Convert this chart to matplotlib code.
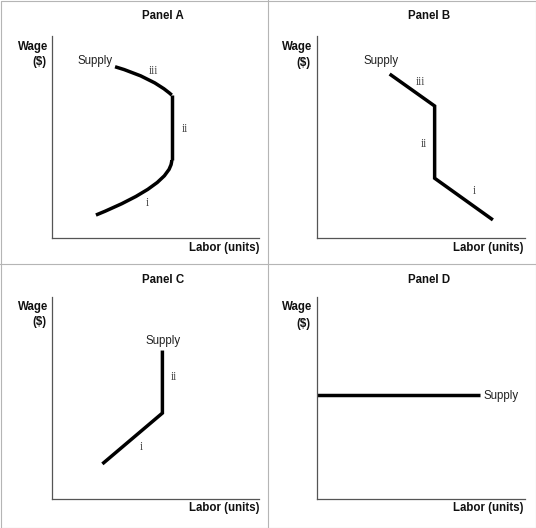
import matplotlib
matplotlib.use("Agg")
import matplotlib.pyplot as plt
from matplotlib.path import Path
from matplotlib.patches import PathPatch
from matplotlib.lines import Line2D

# --- Data (axes units 0-10 on both axes) ---

# Panel A: backward-bending supply, built from two quadratic curves and a vertical run
A_LOW_CURVE = [(2.13, 1.15), (5.78, 2.67), (5.78, 3.87)]   # start, control, end
A_VERTICAL = [(5.78, 3.87), (5.78, 7.08)]
A_HIGH_CURVE = [(5.78, 7.08), (4.86, 7.94), (3.05, 8.48)]  # start, control, end

# Panel B: kinked backward-bending supply
B_X = [3.49, 5.66, 5.66, 8.47]
B_Y = [8.12, 6.54, 2.97, 0.91]

# Panel C: upward sloping then vertical
C_X = [2.44, 5.33, 5.33]
C_Y = [1.74, 4.26, 7.36]

# Panel D: perfectly elastic supply
D_X = [0.0, 7.83]
D_Y = [5.16, 5.16]

PANEL_TITLES = ["Panel A", "Panel B", "Panel C", "Panel D"]
Y_LABEL = ["Wage", "($)"]
X_LABEL = "Labor (units)"

# segment labels (text, x, y) in data units
A_LABELS = [("iii", 4.90, 8.29), ("ii", 6.42, 5.39), ("i", 4.62, 1.73)]
B_LABELS = [("iii", 4.98, 7.74), ("ii", 5.14, 4.66), ("i", 7.56, 2.34)]
C_LABELS = [("ii", 5.89, 6.03), ("i", 4.30, 2.56)]

SANS = "Liberation Sans"
SERIF = "Liberation Serif"
FS = 8.3
CURVE_LW = 2.5
AXIS_COLOR = "#555555"

W, H = 536, 528
fig = plt.figure(figsize=(W / 100, H / 100), dpi=100)
fig.patch.set_facecolor("white")


def make_axes(left_px, origin_px, width_px, height_px):
    ax = fig.add_axes([left_px / W, (H - origin_px) / H, width_px / W, height_px / H])
    ax.set_xlim(0, 10)
    ax.set_ylim(0, 10)
    for side in ["top", "right"]:
        ax.spines[side].set_visible(False)
    for side in ["left", "bottom"]:
        ax.spines[side].set_color(AXIS_COLOR)
        ax.spines[side].set_linewidth(0.9)
    ax.set_xticks([])
    ax.set_yticks([])
    ax.patch.set_alpha(0)
    return ax


def decorate(ax, title, title_x, title_y, wage_x, wage_y, dollar_y, labor_x):
    ax.text(title_x, title_y, title, transform=ax.transAxes, ha="center", va="center",
            fontsize=FS, fontweight="bold", family=SANS, color="#111111")
    ax.text(wage_x, wage_y, Y_LABEL[0], transform=ax.transAxes, ha="right", va="center",
            fontsize=FS, fontweight="bold", family=SANS, color="#111111")
    ax.text(wage_x - 0.008, dollar_y, Y_LABEL[1], transform=ax.transAxes, ha="right",
            va="center", fontsize=FS, fontweight="bold", family=SANS, color="#111111")
    ax.text(labor_x, -0.046, X_LABEL, transform=ax.transAxes, ha="right", va="center",
            fontsize=FS, fontweight="bold", family=SANS, color="#111111")


def numerals(ax, labels):
    for txt, x, y in labels:
        ax.text(x, y, txt, ha="center", va="center", fontsize=FS, family=SERIF, color="#444444")


def supply(ax, x, y, ha):
    ax.text(x, y, "Supply", ha=ha, va="center", fontsize=FS, family=SANS, color="#222222")


def bezier(ax, pts):
    path = Path(pts, [Path.MOVETO, Path.CURVE3, Path.CURVE3])
    ax.add_patch(PathPatch(path, fill=False, lw=CURVE_LW, color="black", capstyle="butt"))


# Panel A
axA = make_axes(51.7, 238.3, 207.7, 202.3)
bezier(axA, A_LOW_CURVE)
axA.plot([p[0] for p in A_VERTICAL], [p[1] for p in A_VERTICAL], color="black",
         lw=CURVE_LW, solid_capstyle="butt")
bezier(axA, A_HIGH_CURVE)
supply(axA, 2.94, 8.78, "right")
numerals(axA, A_LABELS)
decorate(axA, PANEL_TITLES[0], 0.536, 1.099, -0.016, 0.947, 0.870, 1.0)

# Panel B
axB = make_axes(317.3, 238.3, 207.3, 202.3)
axB.plot(B_X, B_Y, color="black", lw=CURVE_LW, solid_joinstyle="miter", solid_capstyle="butt")
supply(axB, 3.09, 8.78, "center")
numerals(axB, B_LABELS)
decorate(axB, PANEL_TITLES[1], 0.537, 1.099, -0.024, 0.944, 0.868, 0.997)

# Panel C
axC = make_axes(51.7, 499.0, 207.7, 201.7)
axC.plot(C_X, C_Y, color="black", lw=CURVE_LW, solid_joinstyle="miter", solid_capstyle="butt")
supply(axC, 5.35, 7.82, "center")
numerals(axC, C_LABELS)
decorate(axC, PANEL_TITLES[2], 0.536, 1.086, -0.019, 0.950, 0.876, 1.0)

# Panel D
axD = make_axes(317.3, 499.0, 207.3, 201.7)
axD.plot(D_X, D_Y, color="black", lw=CURVE_LW, solid_capstyle="butt", clip_on=False)
supply(axD, 8.03, 5.12, "left")
decorate(axD, PANEL_TITLES[3], 0.537, 1.086, -0.024, 0.950, 0.868, 0.997)

# panel grid lines and border
GRID_COLOR = "#b5b5b5"
fig.add_artist(Line2D([268 / W, 268 / W], [0, 1], color=GRID_COLOR, lw=0.8))
fig.add_artist(Line2D([0, 1], [1 - 264 / H, 1 - 264 / H], color=GRID_COLOR, lw=0.8))
fig.add_artist(Line2D([0.5 / W, 1 - 0.5 / W, 1 - 0.5 / W, 0.5 / W, 0.5 / W],
                      [0.5 / H, 0.5 / H, 1 - 0.5 / H, 1 - 0.5 / H, 0.5 / H],
                      color=GRID_COLOR, lw=0.8))

fig.savefig("out.png", dpi=100)
